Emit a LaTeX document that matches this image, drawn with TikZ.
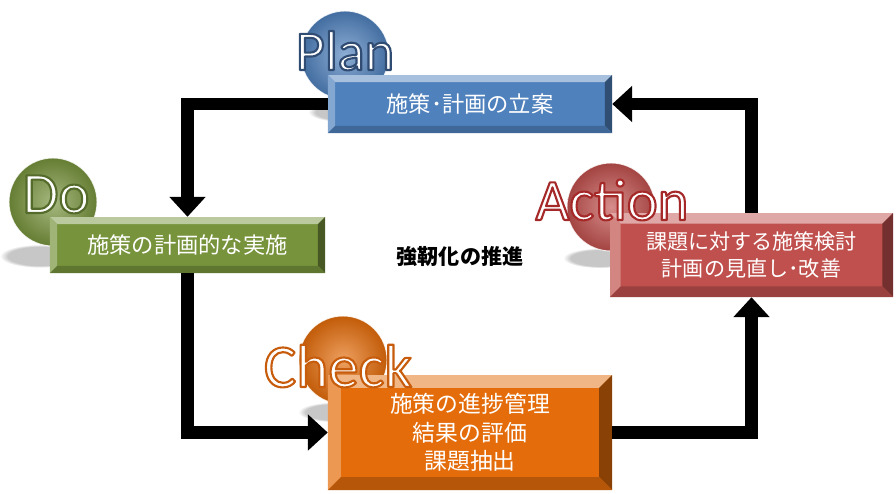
\documentclass[tikz,border=0pt]{standalone}
\usepackage{fontspec}
\usepackage{tikz}
\usetikzlibrary{arrows.meta,fadings}
\newfontfamily\jp{Noto Sans CJK JP}
\newfontfamily\lat{Carlito}
\definecolor{planblue}{HTML}{4F81BD}
\definecolor{dogreen}{HTML}{77933C}
\definecolor{checkorange}{HTML}{E46C0A}
\definecolor{actred}{HTML}{C0504D}
% white letters with a coloured outline (fill + stroke)
\newcommand\outlined[2]{\special{pdf:code q 2 Tr #1 RG 1.8 w 1 j}#2\special{pdf:code 0 Tr Q}}
\tikzset{
  bevel/.store in=\bevw, bevel=6pt,
  box/.style={rectangle, inner sep=0pt, fill=#1, text=white, align=center,
    font=\jp\fontsize{19}{25}\selectfont,
    path picture={
      \fill[#1!50!white] (path picture bounding box.north west) -- (path picture bounding box.north east)
        -- ([shift={(-\bevw,-\bevw)}]path picture bounding box.north east) -- ([shift={(\bevw,-\bevw)}]path picture bounding box.north west) -- cycle;
      \fill[#1!70!white] (path picture bounding box.north west) -- ([shift={(\bevw,-\bevw)}]path picture bounding box.north west)
        -- ([shift={(\bevw,\bevw)}]path picture bounding box.south west) -- (path picture bounding box.south west) -- cycle;
      \fill[#1!60!black] (path picture bounding box.north east) -- ([shift={(-\bevw,-\bevw)}]path picture bounding box.north east)
        -- ([shift={(-\bevw,\bevw)}]path picture bounding box.south east) -- (path picture bounding box.south east) -- cycle;
      \fill[#1!80!black] (path picture bounding box.south west) -- ([shift={(\bevw,\bevw)}]path picture bounding box.south west)
        -- ([shift={(-\bevw,\bevw)}]path picture bounding box.south east) -- (path picture bounding box.south east) -- cycle;
    }},
  ball/.style={circle, minimum size=2.64cm, inner sep=0pt, inner color=#1!65!white, outer color=#1!85!black,
    draw=white, draw opacity=0.8, line width=0.8pt},
  tag/.style={anchor=base, inner sep=0pt, text=white, font=\lat\fontsize{#1}{#1}\selectfont},
  flow/.style={line width=11pt, -{Triangle[length=17pt,width=30pt]}},
  drop/.style={fill=black, opacity=0.22, path fading=circle with fuzzy edge 20 percent},
}
\begin{document}
\begin{tikzpicture}[x=0.03cm, y=-0.03cm]
  \useasboundingbox (0,0) rectangle (896,493);
  % shadows under the balls
  \fill[drop] (345,112) ellipse (1.1cm and 0.3cm);
  \fill[drop] (40,256) ellipse (1.2cm and 0.35cm);
  \fill[drop] (335,412) ellipse (1.1cm and 0.3cm);
  \fill[drop] (600,258) ellipse (1.1cm and 0.3cm);

  % balls
  \node[ball=planblue] (planball) at (345,55) {};
  \node[ball=dogreen] (doball) at (53,202) {};
  \node[ball=checkorange] (checkball) at (343,360) {};
  \node[ball=actred] (actball) at (611,207) {};

  % boxes
  \node[box=planblue, minimum width=8.52cm, minimum height=1.74cm] (plan) at (470,104) {施策･計画の立案};
  \node[box=dogreen, minimum width=8.25cm, minimum height=1.68cm] (do) at (187.5,245) {施策の計画的な実施};
  \node[box=checkorange, bevel=11pt, minimum width=8.52cm, minimum height=3.45cm,
    font=\jp\fontsize{19.5}{24.5}\selectfont] (check) at (470,432.5)
    {施策の進捗管理\\結果の評価\\課題抽出};
  \node[box=actred, bevel=9pt, minimum width=8.49cm, minimum height=2.52cm,
    font=\jp\fontsize{18}{23}\selectfont] (action) at (751.5,255)
    {課題に対する施策検討\\計画の見直し･改善};

  \node[font=\jp\bfseries\fontsize{18}{18}\selectfont] (goal) at (460,257) {強靭化の推進};

  % cycle
  \draw[flow] (plan.west) -| (do.north);
  \draw[flow] (do.south) |- (check.west);
  \draw[flow] (check.east) -| (action.south);
  \draw[flow] (action.north) |- (plan.east);

  % big labels
  \node[tag=48] (plantag) at (345,70) {\outlined{0.19 0.30 0.45}{Plan}};
  \node[tag=50] (dotag) at (56,213) {\outlined{0.33 0.42 0.17}{Do}};
  \node[tag=52] (checktag) at (338,387) {\outlined{0.78 0.36 0.05}{Check}};
  \node[tag=50] (acttag) at (612,220) {\outlined{0.65 0.16 0.16}{Action}};
\end{tikzpicture}
\end{document}
